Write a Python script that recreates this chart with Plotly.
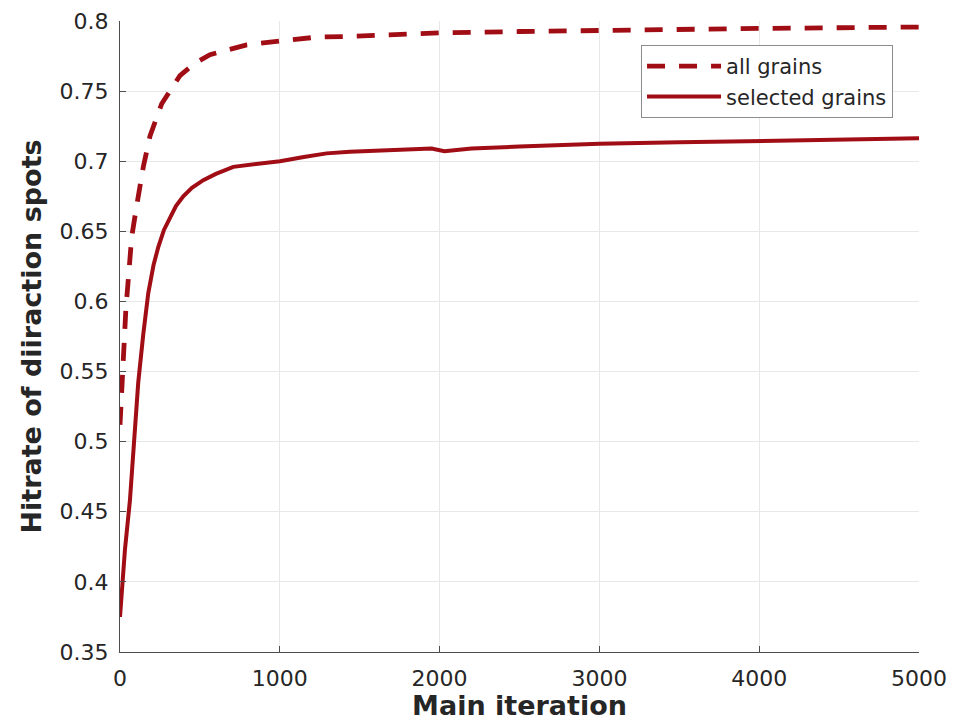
import plotly.graph_objects as go

# ---- data ----
iter_all = [0, 14, 25, 37, 55, 73, 104, 146, 188, 261, 375, 470, 563, 680, 793, 1020, 1231,
            1439, 2000, 2500, 3000, 3500, 4000, 4500, 5000]
hit_all = [0.512, 0.545, 0.570, 0.595, 0.620, 0.646, 0.668, 0.696, 0.718, 0.741,
           0.761, 0.770, 0.776, 0.780, 0.783, 0.786, 0.7885, 0.789, 0.7915, 0.7925, 0.7935,
           0.794, 0.7947, 0.7952, 0.7957]

iter_sel = [0, 31, 62, 83, 114, 146, 177, 210, 240, 275, 313, 350, 396, 450, 521, 600, 709,
            850, 1001, 1150, 1293, 1439, 1800, 1950, 2030, 2200, 2500, 3000, 3500, 4000, 4500, 5000]
hit_sel = [0.375, 0.423, 0.458, 0.494, 0.542, 0.577, 0.606, 0.626, 0.639, 0.651, 0.660, 0.668,
           0.675, 0.681, 0.6865, 0.691, 0.696, 0.698, 0.700, 0.703, 0.7056, 0.7067, 0.708, 0.709,
           0.7072, 0.709, 0.7105, 0.7125, 0.7135, 0.7143, 0.7155, 0.7163]

x_ticks = [0, 1000, 2000, 3000, 4000, 5000]
y_ticks = [0.35, 0.4, 0.45, 0.5, 0.55, 0.6, 0.65, 0.7, 0.75, 0.8]
y_tick_text = ["0.35", "0.4", "0.45", "0.5", "0.55", "0.6", "0.65", "0.7", "0.75", "0.8"]

RED = "#A00D14"
FONT = "DejaVu Sans"

fig = go.Figure()
fig.add_trace(go.Scatter(x=iter_all, y=hit_all, mode="lines", name="all grains",
                         line=dict(color=RED, width=4.8, dash="18px,14px")))
fig.add_trace(go.Scatter(x=iter_sel, y=hit_sel, mode="lines", name="selected grains",
                         line=dict(color=RED, width=4)))

fig.update_layout(
    width=970, height=726,
    margin=dict(l=120, r=51, t=21, b=74, autoexpand=False),
    paper_bgcolor="white", plot_bgcolor="white",
    font=dict(family=FONT, color="#262626"),
    showlegend=True,
    legend=dict(x=0.9675, xanchor="right", y=0.962, yanchor="top",
                bgcolor="white", bordercolor="#8c8c8c", borderwidth=1,
                font=dict(size=21, family=FONT, color="#262626"),
                itemwidth=74, tracegroupgap=0),
    xaxis=dict(range=[0, 5000], tickvals=x_ticks, showgrid=True, gridcolor="#e8e8e8",
               gridwidth=1, zeroline=False, showline=True, linecolor="#4d4d4d", linewidth=1.2,
               ticks="inside", ticklen=6, tickcolor="#4d4d4d", automargin=False,
               tickfont=dict(size=22, family=FONT, color="#262626"),
               ticklabelstandoff=6,
               title=dict(text="<b>Main iteration</b>", font=dict(size=27, family=FONT, color="#262626"),
                          standoff=5)),
    yaxis=dict(range=[0.35, 0.8], tickvals=y_ticks, ticktext=y_tick_text, showgrid=True,
               gridcolor="#e8e8e8", gridwidth=1, zeroline=False, showline=True, automargin=False,
               linecolor="#4d4d4d", linewidth=1.2, ticks="inside", ticklen=6, tickcolor="#4d4d4d",
               tickfont=dict(size=22, family=FONT, color="#262626"),
               ticklabelstandoff=6,
               title=dict(text="<b>Hitrate of diiraction spots</b>",
                          font=dict(size=27, family=FONT, color="#262626"), standoff=10)),
)

fig.write_html("out.html", config={"displayModeBar": False},
               post_script="document.body.style.margin='0';")
